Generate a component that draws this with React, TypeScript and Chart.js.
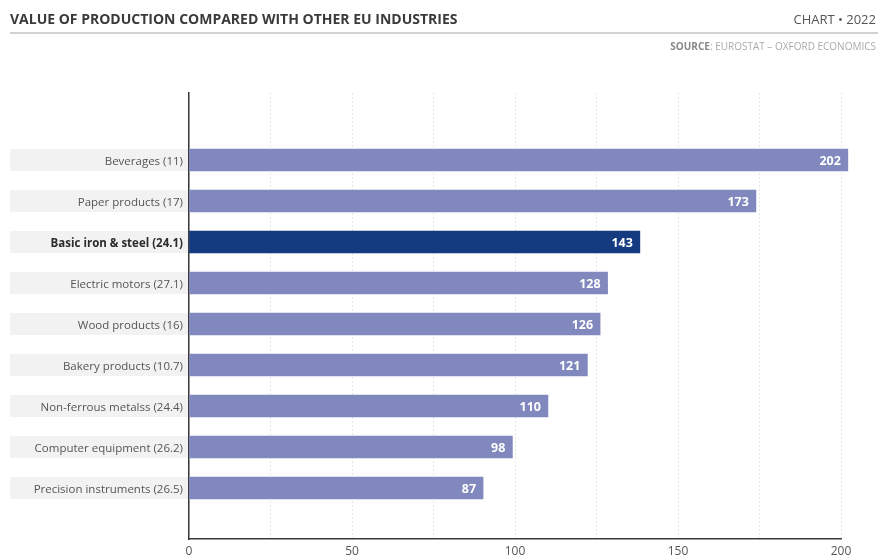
import React, { useEffect, useRef } from "react";
import { Chart, registerables } from "chart.js";

Chart.register(...registerables);

const categories = [
  "Beverages (11)",
  "Paper products (17)",
  "Basic iron & steel (24.1)",
  "Electric motors (27.1)",
  "Wood products (16)",
  "Bakery products (10.7)",
  "Non-ferrous metalss (24.4)",
  "Computer equipment (26.2)",
  "Precision instruments (26.5)",
];
// bar lengths as drawn in the picture
const barLengths = [202.1, 173.9, 138.3, 128.4, 126.1, 122.2, 110.1, 99.2, 90.2];
// value labels printed on the bars
const valueLabels = ["202", "173", "143", "128", "126", "121", "110", "98", "87"];
const highlightIndex = 2;
const xTickLabels = [0, 50, 100, 150, 200];

const BAR = "#8088bd";
const BAR_HI = "#143a80";
const FONT = "'Open Sans', 'Noto Sans', sans-serif";

const bandsPlugin = {
  id: "bands",
  beforeDraw(chart: any) {
    const { ctx } = chart;
    const y = chart.scales.y;
    ctx.save();
    ctx.fillStyle = "#f2f2f2";
    categories.forEach((_, i) => {
      const py = y.getPixelForValue(i);
      ctx.fillRect(10, py - 11, y.right - 10, 22);
    });
    ctx.restore();
  },
  afterDatasetsDraw(chart: any) {
    const { ctx } = chart;
    const meta = chart.getDatasetMeta(0);
    ctx.save();
    ctx.fillStyle = "#ffffff";
    ctx.font = `bold 12.5px ${FONT}`;
    ctx.textAlign = "right";
    ctx.textBaseline = "middle";
    meta.data.forEach((bar: any, i: number) => {
      ctx.fillText(valueLabels[i], bar.x - 7, bar.y + 1);
    });
    ctx.restore();
  },
};

function ChartView() {
  const ref = useRef<HTMLCanvasElement | null>(null);
  useEffect(() => {
    if (!ref.current) return;
    const chart = new Chart(ref.current, {
      type: "bar",
      data: {
        datasets: [
          {
            data: barLengths.map((v, i) => ({ x: v, y: i })) as any,
            backgroundColor: barLengths.map((_, i) => (i === highlightIndex ? BAR_HI : BAR)),
            barThickness: 22,
            borderWidth: 0,
            clip: false,
          } as any,
        ],
      },
      options: {
        indexAxis: "y",
        animation: false,
        responsive: false,
        maintainAspectRatio: false,
        layout: { padding: { top: 93, right: 37, bottom: 0, left: 0 } },
        plugins: { legend: { display: false }, tooltip: { enabled: false } },
        scales: {
          x: {
            type: "linear",
            min: 0,
            max: 200,
            afterFit: (s: any) => {
              s.height = 20;
            },
            ticks: {
              stepSize: 25,
              padding: 5,
              color: "#555",
              font: { family: FONT, size: 12 },
              callback: (v: any) => (xTickLabels.includes(Number(v)) ? String(v) : ""),
            },
            grid: {
              display: true,
              color: "#e6e6e6",
              drawTicks: false,
            },
            border: { display: true, color: "#3a3a3a", width: 1.5, dash: [2, 2] } as any,
          },
          y: {
            type: "linear",
            reverse: true,
            offset: false,
            min: -1.634,
            max: 9.244,
            afterFit: (s: any) => {
              s.width = 189;
            },
            afterBuildTicks: (s: any) => {
              s.ticks = categories.map((_, i) => ({ value: i }));
            },
            ticks: {
              padding: 6,
              labelOffset: 2,
              autoSkip: false,
              color: (c: any) => (c.tick && c.tick.value === highlightIndex ? "#2b2b2b" : "#555"),
              font: (c: any) => ({
                family: FONT,
                size: 11.5,
                weight: c.tick && c.tick.value === highlightIndex ? "bold" : "normal",
              }),
              callback: (v: any) => categories[Number(v)] ?? "",
            },
            grid: { display: false, drawTicks: false, offset: false },
            border: { display: true, color: "#3a3a3a", width: 1.5 },
          },
        },
      } as any,
      plugins: [bandsPlugin],
    });
    return () => chart.destroy();
  }, []);
  return <canvas ref={ref} width={878} height={559} style={{ position: "absolute", left: 0, top: 0 }} />;
}

export default function App() {
  useEffect(() => {
    document.body.style.margin = "0";
  }, []);
  return (
    <div style={{ position: "relative", width: 878, height: 559, background: "#fff", overflow: "hidden", fontFamily: FONT }}>
      <ChartView />
      <div
        style={{
          position: "absolute",
          left: 10,
          top: 9,
          fontSize: 14,
          fontWeight: 700,
          color: "#3a3a3a",
          lineHeight: "20px",
          whiteSpace: "nowrap",
        }}
      >
        VALUE OF PRODUCTION COMPARED WITH OTHER EU INDUSTRIES
      </div>
      <div
        style={{
          position: "absolute",
          right: 2,
          top: 9,
          fontSize: 13,
          color: "#555",
          lineHeight: "20px",
          whiteSpace: "nowrap",
        }}
      >
        CHART • 2022
      </div>
      <div style={{ position: "absolute", left: 10, right: 0, top: 32, height: 2, background: "#d2d2d2" }} />
      <div
        style={{
          position: "absolute",
          right: 2,
          top: 40,
          fontSize: 10,
          color: "#aaa",
          lineHeight: "12px",
          whiteSpace: "nowrap",
        }}
      >
        <span style={{ fontWeight: 700, color: "#888" }}>SOURCE</span>: EUROSTAT – OXFORD ECONOMICS
      </div>
    </div>
  );
}
